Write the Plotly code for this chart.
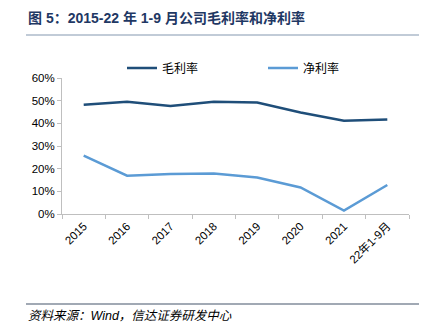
import plotly.graph_objects as go

# Categories and margin series (percent values)
categories = ["2015", "2016", "2017", "2018", "2019", "2020", "2021", "22年1-9月"]
gross_margin = [48.2, 49.5, 47.7, 49.5, 49.2, 44.8, 41.1, 41.7]
net_margin = [25.8, 16.9, 17.7, 17.9, 16.1, 11.7, 1.5, 12.8]

FONT = "Liberation Sans, Noto Sans CJK SC, Arial, sans-serif"
W, H = 431, 331
L, R, T, B = 62, 22, 78, 117
PW, PH = W - L - R, H - T - B


def px(x):
    return (x - L) / PW


def py(y):
    return (H - B - y) / PH


fig = go.Figure()
fig.add_trace(go.Scatter(
    x=categories, y=[v / 100 for v in gross_margin], name="毛利率",
    mode="lines", line=dict(color="#1F4E79", width=2.5),
))
fig.add_trace(go.Scatter(
    x=categories, y=[v / 100 for v in net_margin], name="净利率",
    mode="lines", line=dict(color="#5B9BD5", width=2.5),
))

fig.update_layout(
    width=W, height=H,
    margin=dict(l=L, r=R, t=T, b=B, pad=0),
    paper_bgcolor="white", plot_bgcolor="white",
    font=dict(family=FONT, size=11, color="#000000"),
    showlegend=True,
    legend=dict(
        orientation="h", x=px(122), y=py(68), xanchor="left", yanchor="middle",
        entrywidth=96, entrywidthmode="pixels",
        font=dict(size=12, family="Noto Sans CJK SC"),
        bgcolor="rgba(0,0,0,0)", itemwidth=30,
    ),
    xaxis=dict(
        type="category", showgrid=False, showline=True, linecolor="#BFBFBF",
        linewidth=1, ticks="outside", tickson="boundaries", ticklen=4,
        tickcolor="#BFBFBF", tickangle=-45,
        tickfont=dict(size=11.5, family="Liberation Sans, Noto Sans CJK SC"),
        range=[-0.5, len(categories) - 0.5],
    ),
    yaxis=dict(
        range=[0, 0.6], dtick=0.1, tickformat=".0%", showgrid=False,
        showline=True, linecolor="#BFBFBF", linewidth=1, ticks="outside",
        ticklen=4, tickcolor="#BFBFBF", zeroline=False,
        tickfont=dict(size=11.5),
    ),
)

# Heading, rules and source note
fig.add_annotation(
    text="<b>图 5：2015-22 年 1-9 月公司毛利率和净利率</b>",
    xref="paper", yref="paper", x=px(26), y=py(18),
    xanchor="left", yanchor="middle", showarrow=False,
    font=dict(size=14, color="#1F3864", family=FONT),
)
fig.add_shape(type="line", xref="paper", yref="paper",
              x0=px(26), x1=px(419), y0=py(35), y1=py(35),
              line=dict(color="#8497B0", width=1.2))
fig.add_shape(type="line", xref="paper", yref="paper",
              x0=px(26), x1=px(419), y0=py(304), y1=py(304),
              line=dict(color="#44546A", width=1.2))
fig.add_annotation(
    text="<i>资料来源：Wind，信达证券研发中心</i>",
    xref="paper", yref="paper", x=px(26), y=py(316),
    xanchor="left", yanchor="middle", showarrow=False,
    font=dict(size=12.5, color="#000000", family=FONT),
)

fig.write_html("out.html")
